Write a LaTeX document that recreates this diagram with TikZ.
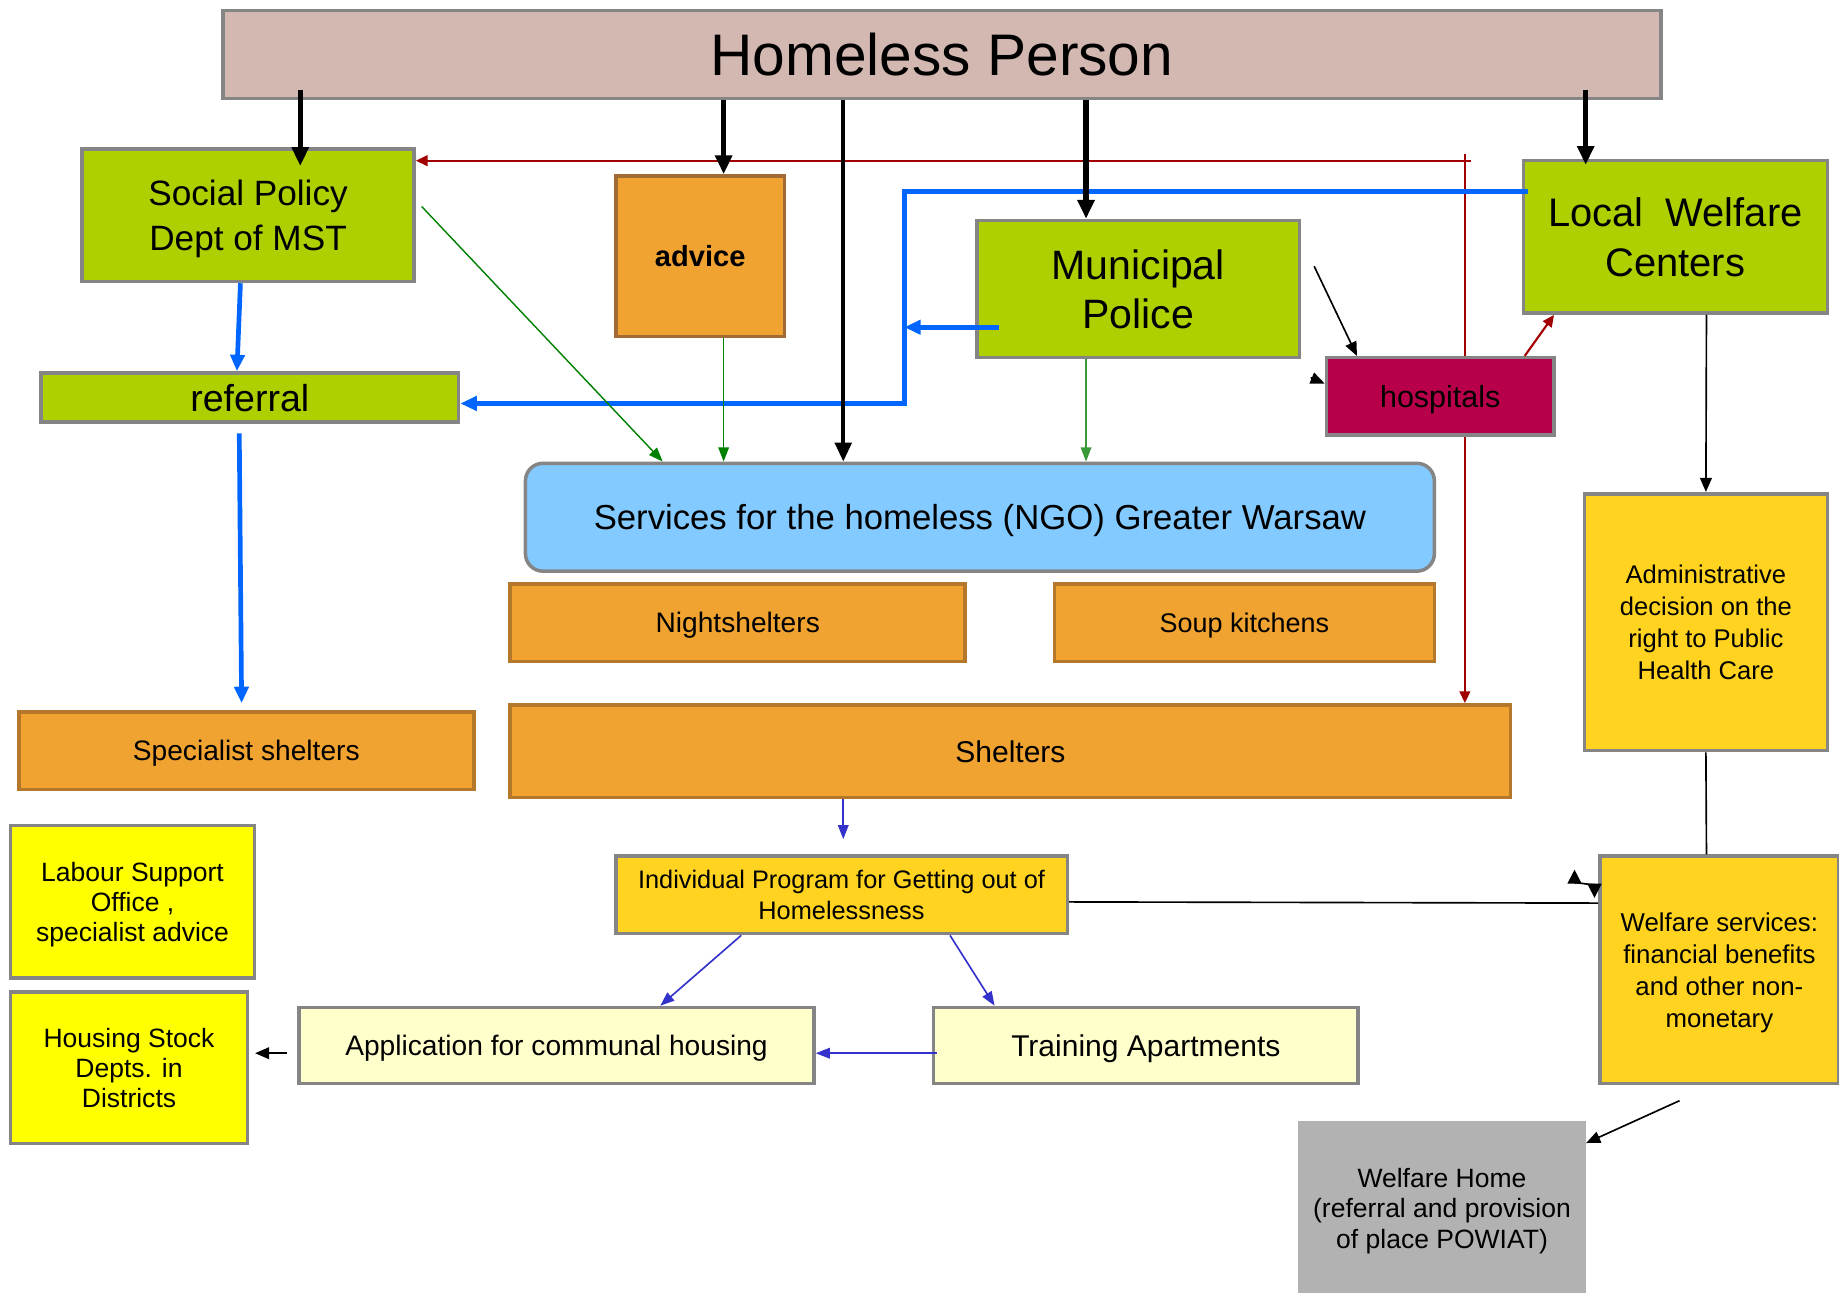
\documentclass[tikz,border=0pt]{standalone}
\usepackage{fontspec}
\setmainfont{Liberation Sans}
\usetikzlibrary{arrows.meta}

\definecolor{personFill}{HTML}{D3B8B2}
\definecolor{limeFill}{HTML}{AFD000}
\definecolor{orangeFill}{HTML}{F0A331}
\definecolor{orangeEdge}{HTML}{B5782A}
\definecolor{adviceEdge}{HTML}{A06B35}
\definecolor{skyFill}{HTML}{82CAFF}
\definecolor{goldFill}{HTML}{FFD320}
\definecolor{paleFill}{HTML}{FFFFCC}
\definecolor{brightYellow}{HTML}{FFFF00}
\definecolor{crimsonFill}{HTML}{B8004A}
\definecolor{edgeGray}{HTML}{858585}
\definecolor{homeGray}{HTML}{B2B2B2}
\definecolor{refBlue}{HTML}{0066FF}
\definecolor{darkRed}{HTML}{A00000}
\definecolor{darkGreen}{HTML}{008000}
\definecolor{midGreen}{HTML}{3A9A3A}
\definecolor{progBlue}{HTML}{3333CC}

\newcommand{\boxfont}[2]{\fontsize{#1}{#2}\selectfont}

\begin{document}
\begin{tikzpicture}
[x=0.5pt,y=-0.5pt,
 boxDecorate/.style={shape=rectangle,draw=edgeGray,line width=1.5pt,inner sep=0pt,text depth=0pt,align=center},%
 limeBox/.style={boxDecorate,fill=limeFill},%
 orangeBox/.style={boxDecorate,fill=orangeFill,draw=orangeEdge},%
 goldBox/.style={boxDecorate,fill=goldFill},%
 heavyArrow/.style={-{Triangle[length=8pt,width=7pt]},line width=2.2pt},%
 blueArrow/.style={-{Triangle[length=7pt,width=6pt]},line width=2pt,color=refBlue},%
 redArrow/.style={-{Triangle[length=5pt,width=4.5pt]},line width=0.9pt,color=darkRed},%
 greenArrow/.style={-{Triangle[length=6pt,width=4.5pt]},line width=0.6pt,color=darkGreen},%
 thinArrow/.style={-{Triangle[length=6pt,width=5pt]},line width=0.7pt},%
 thinLine/.style={-,line width=0.7pt},%
 progArrow/.style={-{Triangle[length=6pt,width=4.5pt]},line width=0.7pt,color=progBlue}]
\useasboundingbox (0,0) rectangle (1568,1102);
%% nodes or boxes
\node (person) at (803,46.5) [boxDecorate,fill=personFill,minimum width=613pt,minimum height=37.5pt,font=\boxfont{25}{30}] {Homeless Person};
\node (social) at (211.5,183.5) [limeBox,minimum width=141.5pt,minimum height=56.5pt,font=\boxfont{15}{19.5}] {Social Policy\\Dept of MST};
\node (advice) at (597,218.5) [orangeBox,draw=adviceEdge,minimum width=72pt,minimum height=68.5pt,font=\boxfont{12.4}{15}\bfseries] {advice};
\node (police) at (970.5,246.5) [limeBox,minimum width=137.5pt,minimum height=58.5pt,font=\boxfont{17.5}{21}] {Municipal\\Police};
\node (welfare) at (1428.5,202) [limeBox,minimum width=129.5pt,minimum height=65pt,font=\boxfont{17}{21.5}] {Local\ \ Welfare\\Centers};
\node (referral) at (213,339) [limeBox,minimum width=178pt,minimum height=21pt,font=\boxfont{16}{19}] {referral};
\node (ngo) at (835.5,441) [boxDecorate,fill=skyFill,rounded corners=7.5pt,minimum width=387.5pt,minimum height=46pt,font=\boxfont{14.8}{18}] {Services for the homeless (NGO) Greater Warsaw};
\node (night) at (629,531) [orangeBox,minimum width=194pt,minimum height=33pt,font=\boxfont{12}{14}] {Nightshelters};
\node (soup) at (1061,531) [orangeBox,minimum width=162pt,minimum height=33pt,font=\boxfont{11.5}{14}] {Soup kitchens};
\node (special) at (210,640) [orangeBox,minimum width=194pt,minimum height=33pt,font=\boxfont{12}{14}] {Specialist shelters};
\node (shelters) at (861.5,640.5) [orangeBox,minimum width=426.5pt,minimum height=39.5pt,font=\boxfont{12.8}{15}] {Shelters};
\node (program) at (717.5,763) [goldBox,minimum width=192.5pt,minimum height=33pt,font=\boxfont{10.8}{13.5}] {Individual Program for Getting out of\\Homelessness};
\node (labour) at (113,769) [boxDecorate,fill=brightYellow,minimum width=104pt,minimum height=65pt,font=\boxfont{11.3}{12.8}] {Labour Support\\Office ,\\specialist advice};
\node (housing) at (110,910.5) [boxDecorate,fill=brightYellow,minimum width=101pt,minimum height=64.5pt,font=\boxfont{11.3}{12.8}] {Housing Stock\\Depts. in\\Districts};
\node (application) at (474.5,891.5) [boxDecorate,fill=paleFill,minimum width=219.5pt,minimum height=32.5pt,font=\boxfont{12}{14}] {Application for communal housing};
\node (training) at (977,891.5) [boxDecorate,fill=paleFill,minimum width=181pt,minimum height=32.5pt,font=\boxfont{12.8}{15}] {Training Apartments};
\node (admin) at (1454.5,530.5) [goldBox,minimum width=103.5pt,minimum height=109.5pt,font=\boxfont{10.9}{13.7}] {Administrative\\decision on the\\right to Public\\Health Care};
\node (services) at (1466,827) [goldBox,minimum width=102pt,minimum height=97pt,font=\boxfont{11}{13.7}] {Welfare services:\\financial benefits\\and other non-\\monetary};
\node (home) at (1229.5,1030) [fill=homeGray,inner sep=0pt,text depth=0pt,align=center,minimum width=122.5pt,minimum height=74pt,font=\boxfont{11.3}{13}] {Welfare Home\\(referral and provision\\of place POWIAT)};
%% red lines, under the hospitals box
\coordinate (redTop) at (1249,137);
\draw[redArrow] ([yshift=3pt]redTop) -- (redTop |- shelters.north);
\node (hospitals) at (1228,338) [boxDecorate,fill=crimsonFill,minimum width=97pt,minimum height=33pt,font=\boxfont{13}{15}] {hospitals};
\draw[redArrow] ([xshift=2.5pt]redTop) -- ([yshift=23.25pt]social.east);
\draw[redArrow] ([xshift=36pt]hospitals.north) -- ([xshift=-51.75pt]welfare.south);
%% blue referral lines
\coordinate (hub) at (771,344);
\coordinate (policeOut) at ([xshift=10pt,yshift=-16.25pt]police.west);
\draw[blueArrow] ([xshift=-3.25pt]social.south) -- ([xshift=-5.5pt]referral.north);
\draw[blueArrow] ([xshift=-4.5pt,yshift=-4pt]referral.south) -- ([xshift=-2pt,yshift=3pt]special.north);
\draw[blueArrow] ([xshift=2.5pt,yshift=19.5pt]welfare.west) -| (hub) -- ([yshift=-2.5pt]referral.east);
\draw[blueArrow] (policeOut) -- (policeOut -| hub);
%% arrows from the homeless person
\foreach \fromshift/\upshift/\target/\toshift/\downshift/\lw in {
  -273.5/4.5/social/22.25/-8/2.2, -93/0/advice/10/0/2.2, -42/0/ngo/-58.25/0/1.6,
  61.5/0/police/-22.25/0/2.2, 274.5/4.5/welfare/-38.25/-2.5/2.2}
{
  \draw[heavyArrow,line width=\lw pt] ([xshift=\fromshift pt,yshift=\upshift pt]person.south) -- ([xshift=\toshift pt,yshift=\downshift pt]\target.north);
}
%% green arrows into the services
\draw[greenArrow] ([xshift=2.5pt,yshift=3.75pt]social.east) -- ([xshift=-135.25pt]ngo.north);
\draw[greenArrow] ([xshift=10pt]advice.south) -- ([xshift=-109.25pt]ngo.north);
\draw[greenArrow,color=midGreen] ([xshift=-22.25pt]police.south) -- ([xshift=45.25pt]ngo.north);
%% black lines
\draw[thinArrow] ([xshift=5.5pt,yshift=9.75pt]police.east) -- ([xshift=-35.5pt]hospitals.north);
\draw[thinArrow] ([xshift=-6pt,yshift=8pt]hospitals.west) -- ([yshift=5.5pt]hospitals.west);
\draw[thinArrow] ([xshift=13.25pt]welfare.south) -- (admin.north);
\draw[thinLine] (admin.south) -- ([xshift=-5.5pt]services.north);
\draw[thinLine] ([yshift=-3pt]program.east) -- ([yshift=28.5pt]services.west);
\draw[{Triangle[length=6pt,width=6pt]}-{Triangle[length=6pt,width=6pt]},line width=0.7pt]
  ([xshift=-10pt,yshift=-6.5pt]services.north west) .. controls +(0,10) and +(0,-10) .. ([xshift=-1.5pt,yshift=-18.5pt]services.north west);
\draw[thinArrow] ([xshift=-17pt,yshift=-6.5pt]services.south) -- ([yshift=-9.5pt]home.north east);
\draw[thinArrow] ([xshift=-4.5pt,yshift=-3.25pt]application.west) -- ([xshift=2.5pt,yshift=6.25pt]housing.east);
%% program lines
\draw[progArrow] ([xshift=-71.25pt]shelters.south) -- ([xshift=0.75pt,yshift=6.5pt]program.north);
\draw[progArrow] ([xshift=-42.75pt]program.south) -- ([xshift=44.25pt]application.north);
\draw[progArrow] ([xshift=46.25pt]program.south) -- ([xshift=-64.5pt]training.north);
\draw[progArrow] ([xshift=2pt,yshift=-3.25pt]training.west) -- ([yshift=-3.25pt]application.east);
\end{tikzpicture}
\end{document}
